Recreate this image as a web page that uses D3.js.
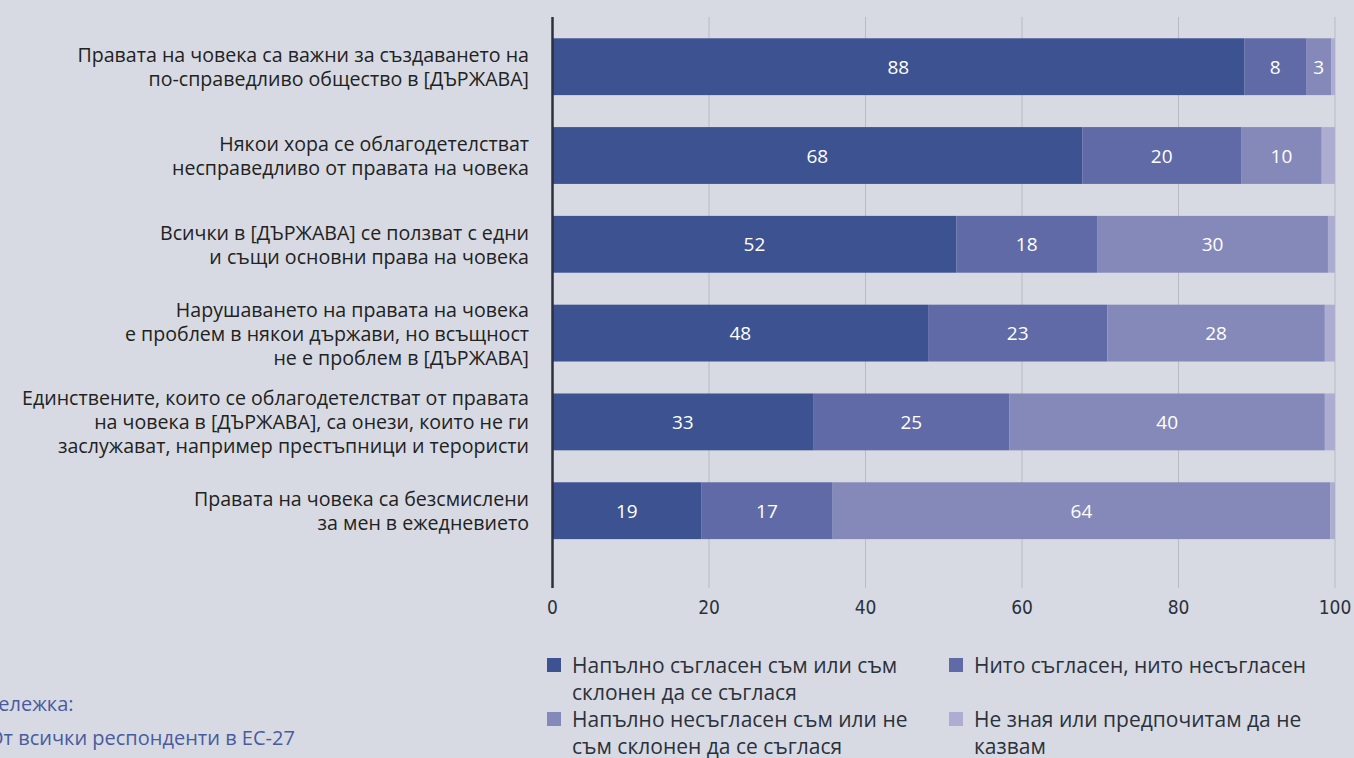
<!DOCTYPE html>
<html><head><meta charset="utf-8">
<script src="https://cdn.jsdelivr.net/npm/d3@7"></script>
<style>
html,body{margin:0;padding:0;background:#d7dae3;overflow:hidden}
svg{display:block}
text{font-family:"Open Sans","Noto Sans",sans-serif}
</style></head>
<body><svg id="c" width="1354" height="758"></svg>
<script>
const categories = [
  ["Правата на човека са важни за създаването на","по-справедливо общество в [ДЪРЖАВА]"],
  ["Някои хора се облагодетелстват","несправедливо от правата на човека"],
  ["Всички в [ДЪРЖАВА] се ползват с едни","и същи основни права на човека"],
  ["Нарушаването на правата на човека","е проблем в някои държави, но всъщност","не е проблем в [ДЪРЖАВА]"],
  ["Единствените, които се облагодетелстват от правата","на човека в [ДЪРЖАВА], са онези, които не ги","заслужават, например престъпници и терористи"],
  ["Правата на човека са безсмислени","за мен в ежедневието"]
];
const seriesNames = [
  "Напълно съгласен съм или съм склонен да се съглася",
  "Нито съгласен, нито несъгласен",
  "Напълно несъгласен съм или не съм склонен да се съглася",
  "Не зная или предпочитам да не казвам"
];
const agree    = [88.4, 67.7, 51.6, 48.0, 33.3, 19.0];
const neither  = [7.9, 20.3, 18.0, 22.9, 25.1, 16.8];
const disagree = [3.2, 10.3, 29.5, 27.8, 40.3, 63.6];
const dontKnow = [0.5, 1.7, 0.9, 1.3, 1.3, 0.6];
const xTicks = [0, 20, 40, 60, 80, 100];
const colors = ["#3d5291", "#5f6aa6", "#8589b9", "#adadd2"];
const legendLines = [
  ["Напълно съгласен съм или съм","склонен да се съглася"],
  ["Нито съгласен, нито несъгласен"],
  ["Напълно несъгласен съм или не","съм склонен да се съглася"],
  ["Не зная или предпочитам да не","казвам"]
];
const noteLines = ["Бележка:", "От всички респонденти в ЕС-27", "(n = 25 727), претеглени резултати"];

const svg = d3.select("#c");
const x = d3.scaleLinear().domain([0,100]).range([552.5,1335]);
const idx = d3.range(categories.length);
const y = d3.scaleBand().domain(idx).range([22.3,555.1]).paddingInner(0.36).paddingOuter(0.18);
const axTop = 17, axBottom = 588;

// gridlines
svg.append("g").selectAll("line").data(xTicks.slice(1)).join("line")
  .attr("x1", d=>x(d)).attr("x2", d=>x(d)).attr("y1", axTop).attr("y2", axBottom)
  .attr("stroke", "#b9bbc0").attr("stroke-width", 1);

// stacked data
const rows = idx.map(i => ({i, agree:agree[i], neither:neither[i], disagree:disagree[i], dk:dontKnow[i]}));
const keys = ["agree","neither","disagree","dk"];
const stack = d3.stack().keys(keys)(rows);

const g = svg.append("g");
stack.forEach((layer, k) => {
  g.append("g").attr("fill", colors[k]).selectAll("rect").data(layer).join("rect")
    .attr("x", d=>x(d[0])).attr("width", d=>x(d[1])-x(d[0]))
    .attr("y", d=>y(d.data.i)).attr("height", y.bandwidth());
  if (k < 3) {
    g.append("g").selectAll("text").data(layer).join("text")
      .attr("x", d=>(x(d[0])+x(d[1]))/2).attr("y", d=>y(d.data.i)+y.bandwidth()/2)
      .attr("text-anchor","middle").attr("dominant-baseline","central")
      .attr("fill","#fff").attr("font-size",19)
      .text(d=>Math.round(d[1]-d[0]));
  }
});

// axis line
svg.append("line").attr("x1", x(0)).attr("x2", x(0)).attr("y1", axTop).attr("y2", axBottom)
  .attr("stroke", "#2c313b").attr("stroke-width", 2.5);

// x tick labels
svg.append("g").selectAll("text").data(xTicks).join("text")
  .attr("x", d=>x(d)).attr("y", 607).attr("text-anchor","middle").attr("dominant-baseline","central")
  .attr("fill","#2c313b").attr("font-size",19)
  .style("font-family","'DejaVu Sans Condensed','Liberation Sans Narrow','Roboto Condensed',sans-serif")
  .text(d=>d);

// category labels
const lh = 24;
idx.forEach(i => {
  const lines = categories[i];
  const cy = y(i) + y.bandwidth()/2;
  const t = svg.append("text").attr("text-anchor","end").attr("fill","#222").attr("font-size",19.6);
  lines.forEach((ln, j) => {
    t.append("tspan").attr("x", 529).attr("y", cy + (j - (lines.length-1)/2)*lh)
      .attr("dominant-baseline","central").text(ln);
  });
});

// legend
const legPos = [[547,665],[949,665],[547,719],[949,719]];
const legColors = [colors[0], colors[1], colors[2], colors[3]];
legendLines.forEach((lines, k) => {
  const [lx, ly] = legPos[k];
  svg.append("rect").attr("x", lx).attr("y", ly-7).attr("width", 14).attr("height", 14).attr("fill", legColors[k]);
  const t = svg.append("text").attr("fill","#2c313b").attr("font-size",21);
  lines.forEach((ln, j) => {
    t.append("tspan").attr("x", lx+25).attr("y", ly + j*26.5).attr("dominant-baseline","central").text(ln);
  });
});

// note (partly outside the frame, as in the original)
const nt = svg.append("text").attr("fill","#4a5aa0").attr("font-size",20).attr("font-weight",500);
noteLines.forEach((ln, j) => {
  nt.append("tspan").attr("x", j===0 ? -14 : -12).attr("y", [703,737,765][j]).attr("dominant-baseline","central").text(ln);
});
</script></body></html>
